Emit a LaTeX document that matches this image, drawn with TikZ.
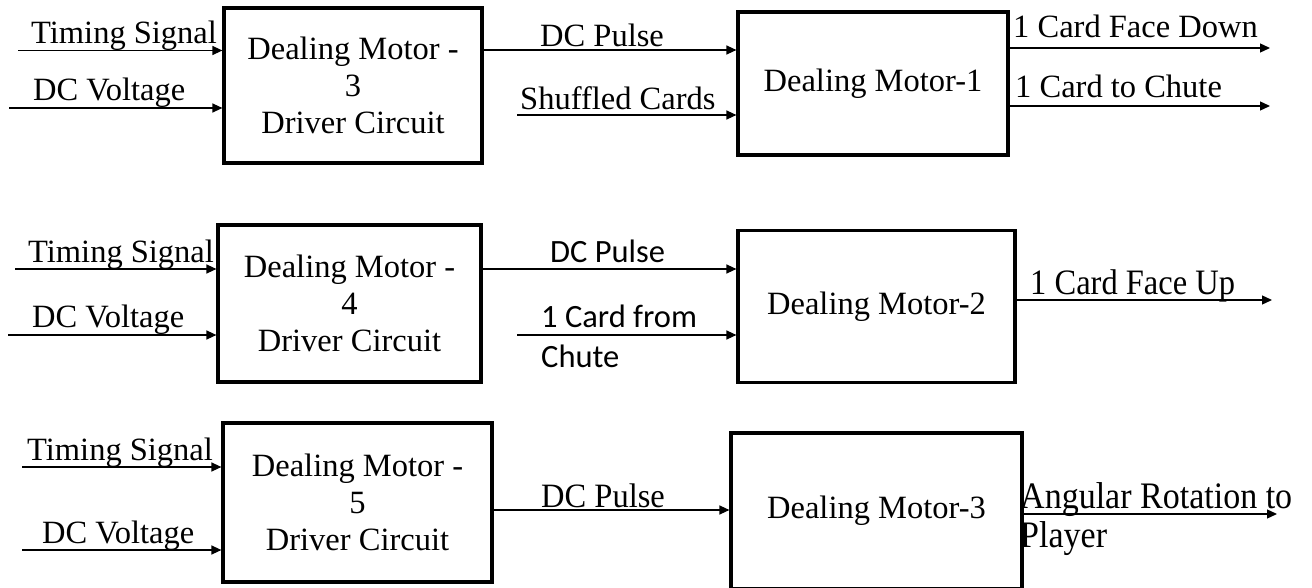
\documentclass[tikz,border=0pt]{standalone}
\usepackage{graphicx}
\usepackage{fontspec}
\setmainfont{Liberation Serif}
\newfontfamily\calib{Carlito}
\usetikzlibrary{arrows.meta}
\newcommand\vst[2]{\scalebox{1}[#1]{#2}}
\begin{document}
\begin{tikzpicture}[x=1pt,y=-1pt,
 box/.style={draw,line width=3.2pt,inner sep=0,align=center,font=\fontsize{32.5}{37}\selectfont},
 lbl/.style={inner sep=0,anchor=base west,font=\fontsize{32.5}{37}\selectfont},
 slbl/.style={inner sep=0,anchor=base west,font={\calib\fontsize{32.5}{37}\selectfont}},
 arr/.style={line width=1.3pt,-{Triangle[length=10pt,width=9pt]}}]
\useasboundingbox (0,0) rectangle (1312,588);
% ---------- row 1
\node[box,minimum width=258,minimum height=155] (drv1) at (353,85.5) {Dealing Motor -\\3\\Driver Circuit};
\node[box,minimum width=270,minimum height=143] (mot1) at (873,83.5) {Dealing Motor-1};
\coordinate (ts1) at (18,50.5);
\coordinate (dv1) at (9,108);
\coordinate (sc1) at (517,115);
\coordinate (fd1) at (1270,48);
\coordinate (tc1) at (1270,106);
\draw[arr] (ts1) -- (ts1 -| drv1.west);
\draw[arr] (dv1) -- (dv1 -| drv1.west);
\draw[arr] (drv1.east |- 0,50) -- (mot1.west |- 0,50);
\draw[arr] (sc1) -- (sc1 -| mot1.west);
\draw[arr] (fd1 -| mot1.east) -- (fd1);
\draw[arr] (tc1 -| mot1.east) -- (tc1);
\node[lbl] (l1a) at (31,43.5) {Timing Signal};
\node[lbl] (l1b) at (33,100.5) {DC Voltage};
\node[lbl] (l1c) at (540,47) {DC Pulse};
\node[lbl] (l1d) at (520,110) {Shuffled Cards};
\node[lbl] (l1e) at (1013,38) {1 Card Face Down};
\node[lbl] (l1f) at (1015,98) {1 Card to Chute};
% ---------- row 2
\node[box,minimum width=263,minimum height=157] (drv2) at (349.5,303.5) {Dealing Motor -\\4\\Driver Circuit};
\node[box,minimum width=277,minimum height=152] (mot2) at (876.5,306.5) {Dealing Motor-2};
\coordinate (ts2) at (15,269);
\coordinate (dv2) at (8,335);
\coordinate (cf2) at (517,335);
\coordinate (fu2) at (1272,300);
\draw[arr] (ts2) -- (ts2 -| drv2.west);
\draw[arr] (dv2) -- (dv2 -| drv2.west);
\draw[arr] (drv2.east |- 0,269) -- (mot2.west |- 0,269);
\draw[arr] (cf2) -- (cf2 -| mot2.west);
\draw[arr] (fu2 -| mot2.east) -- (fu2);
\node[lbl] (l2a) at (28,262) {Timing Signal};
\node[lbl] (l2b) at (32,327) {DC Voltage};
\node[slbl] (l2c) at (550,262) {DC Pulse};
\node[slbl] (l2d) at (541,327) {1 Card from};
\node[slbl] (l2e) at (541,367) {Chute};
\node[lbl] (l2f) at (1030,294) {\vst{1.1}{1 Card Face Up}};
% ---------- row 3
\node[box,minimum width=269,minimum height=159] (drv3) at (357.5,502.5) {Dealing Motor -\\5\\Driver Circuit};
\node[box,minimum width=291,minimum height=156] (mot3) at (876.5,511) {Dealing Motor-3};
\coordinate (ts3) at (22,467);
\coordinate (dv3) at (22,550);
\coordinate (ar3) at (1277,514);
\draw[arr] (ts3) -- (ts3 -| drv3.west);
\draw[arr] (dv3) -- (dv3 -| drv3.west);
\draw[arr] (drv3.east |- 0,510) -- (mot3.west |- 0,510);
\draw[arr] (ar3 -| mot3.east) -- (ar3);
\node[lbl] (l3a) at (27,460) {Timing Signal};
\node[lbl] (l3b) at (42,543) {DC Voltage};
\node[lbl] (l3c) at (541,507) {\vst{1.05}{DC Pulse}};
\node[lbl,font=\fontsize{34}{37}\selectfont] (l3d) at (1020,508) {\vst{1.1}{Angular Rotation to}};
\node[lbl,font=\fontsize{34}{37}\selectfont] (l3e) at (1020,547) {\vst{1.1}{Player}};
\end{tikzpicture}
\end{document}
